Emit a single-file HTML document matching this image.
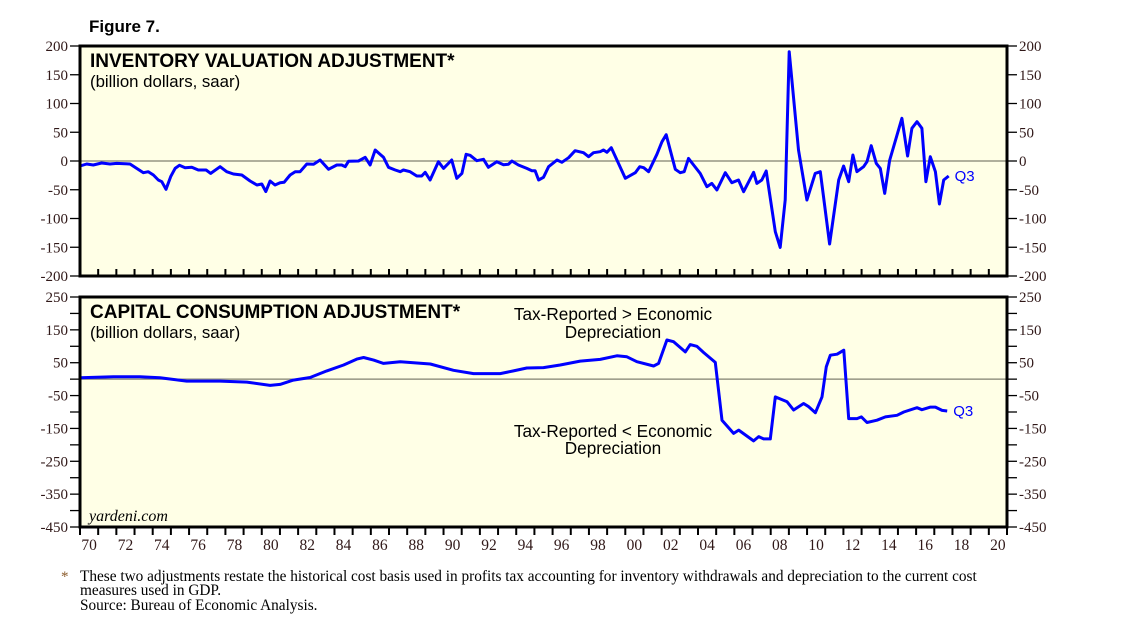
<!DOCTYPE html>
<html><head><meta charset="utf-8"><style>
body{margin:0;background:#fff}
svg{display:block}
.ser{font-family:"Liberation Serif",serif}
.san{font-family:"Liberation Sans",sans-serif}
</style></head><body>
<svg id="c" width="1138" height="630" viewBox="0 0 1138 630" xmlns="http://www.w3.org/2000/svg">
<text x="89" y="32" class="san" font-size="17" font-weight="bold">Figure 7.</text>
<g id="top"></g>
<g id="bot"></g>
<text x="61" y="581" class="ser" font-size="15" fill="#8a5a2a">*</text>
<text x="80" y="581" class="ser" font-size="15.3">These two adjustments restate the historical cost basis used in profits tax accounting for inventory withdrawals and depreciation to the current cost</text>
<text x="80" y="595" class="ser" font-size="15.3">measures used in GDP.</text>
<text x="80" y="610" class="ser" font-size="15.3">Source: Bureau of Economic Analysis.</text>
</svg>
<script>
const ivaYears=[1970.00,1970.37,1970.73,1971.19,1971.65,1972.02,1972.75,1973.12,1973.49,1973.76,1974.04,1974.31,1974.50,1974.73,1974.99,1975.23,1975.47,1975.78,1976.15,1976.51,1976.94,1977.19,1977.71,1978.07,1978.44,1978.90,1979.36,1979.73,1980.00,1980.22,1980.46,1980.73,1981.01,1981.23,1981.56,1981.84,1982.11,1982.48,1982.85,1983.21,1983.67,1984.13,1984.40,1984.59,1984.77,1985.32,1985.69,1985.96,1986.24,1986.70,1986.97,1987.34,1987.62,1987.79,1988.16,1988.53,1988.80,1988.99,1989.26,1989.72,1990.00,1990.45,1990.73,1991.01,1991.24,1991.46,1991.83,1992.20,1992.47,1992.93,1993.30,1993.57,1993.76,1994.12,1994.58,1994.86,1995.04,1995.23,1995.50,1995.78,1996.24,1996.51,1996.88,1997.24,1997.70,1997.98,1998.25,1998.62,1998.80,1998.99,1999.23,2000.00,2000.55,2000.79,2001.01,2001.28,2001.74,2002.02,2002.25,2002.75,2003.02,2003.24,2003.48,2003.76,2004.12,2004.49,2004.76,2005.04,2005.50,2005.86,2006.23,2006.51,2007.06,2007.24,2007.51,2007.75,2008.25,2008.52,2008.80,2009.02,2009.53,2009.99,2010.45,2010.73,2011.24,2011.74,2012.01,2012.29,2012.52,2012.74,2013.11,2013.30,2013.53,2013.81,2014.03,2014.27,2014.54,2015.22,2015.53,2015.77,2016.05,2016.32,2016.54,2016.78,2017.06,2017.28,2017.52,2017.79];
const ivaValues=[-8.7,-5.2,-7,-3.5,-5.2,-4.1,-5.2,-12.8,-20.3,-18.6,-24.4,-33,-36,-49.3,-27.2,-12.8,-7.5,-11.6,-11,-15.7,-15.7,-21.5,-9.9,-18.6,-22.6,-24.4,-34.8,-41.7,-40,-53.3,-34.8,-41.7,-37.7,-37.1,-24.4,-18.6,-18.6,-5.2,-5.8,1.7,-14.5,-7,-7,-9.9,-0.6,0,6.4,-7,19.1,6.4,-11,-15.7,-18.6,-15.7,-18.6,-26.1,-26.1,-19.7,-33,-1.2,-12.8,1.7,-30.1,-21.5,11.6,9.9,0.6,2.9,-11,-1.2,-6.4,-5.8,0,-7,-12.8,-16.8,-16.8,-33,-28.4,-9.9,1.7,-2.3,5.8,18,14.5,7.5,14.5,16.2,19.1,15.1,23.2,-30.1,-20.3,-9.9,-11.6,-18.6,11.6,33.6,45.8,-14.5,-20.3,-18.6,4.6,-7,-21.5,-44.7,-38.9,-50.5,-20.3,-37.7,-33.1,-53.4,-19.7,-38.9,-33.1,-17.4,-122.9,-150.2,-67.9,190.1,19.1,-67.9,-21.5,-18.6,-144.4,-33.1,-8.7,-36,10.4,-18.6,-9.9,-1.2,26.6,-4.1,-12.8,-56.3,0.8,74.2,8.7,56.8,68.4,56.8,-36,7.5,-18.6,-74.8,-33.1,-26.1];
const ccaYears=[1970,1971.84,1973.30,1974.40,1975.87,1977.71,1979.18,1980.46,1981.01,1981.74,1982.66,1983.58,1984.50,1985.23,1985.60,1986.15,1986.70,1987.62,1989.27,1990.55,1991.65,1993.12,1993.85,1994.58,1995.50,1996.42,1997.52,1998.62,1999.54,2000.09,2000.64,2001.56,2001.83,2002.29,2002.66,2003.30,2003.57,2003.94,2004.31,2004.95,2005.32,2005.96,2006.24,2007.06,2007.34,2007.61,2007.98,2008.25,2008.90,2009.26,2009.81,2010.09,2010.46,2010.82,2011.06,2011.28,2011.65,2012.02,2012.29,2012.75,2012.99,2013.30,2013.85,2014.31,2014.95,2015.32,2016.05,2016.32,2016.79,2017.06,2017.43,2017.71];
const ccaValues=[4,7,7,4,-6,-6,-9,-19,-16,-3,5,25,43,61,66,58,48,53,46,27,17,17,25,34,35,43,55,60,71,68,53,40,48,119,114,83,105,100,81,51,-125,-165,-155,-188,-175,-182,-182,-54,-69,-94,-74,-84,-102,-54,38,73,76,88,-120,-120,-115,-132,-125,-115,-110,-100,-87,-93,-85,-85,-95,-97];
const ivaTicks=[200,150,100,50,0,-50,-100,-150,-200];
const ccaTicks=[250,150,50,-50,-150,-250,-350,-450];
const yearLabels=["70","72","74","76","78","80","82","84","86","88","90","92","94","96","98","00","02","04","06","08","10","12","14","16","18","20"];

const NS="http://www.w3.org/2000/svg";
const L=80,R=1007,Y0=1970,Y1=2021;
const x=yr=>L+(yr-Y0)*(R-L)/(Y1-Y0);
function mk(p,t,a){const e=document.createElementNS(NS,t);for(const k in a)e.setAttribute(k,a[k]);p.appendChild(e);return e;}
function panel(g,top,bot,vmax,vmin,ticks,minor,years,vals,title,name){
  const y=v=>top+(vmax-v)*(bot-top)/(vmax-vmin);
  const bg=mk(g,'rect',{x:L,y:top,width:R-L,height:bot-top,fill:'#ffffe6'});
  
  
  const z=mk(g,'line',{x1:L,x2:R,y1:y(0),y2:y(0),stroke:'#808070','stroke-width':1.3});
  
  
  for(let v=vmin;v<=vmax;v+=minor){
    mk(g,'line',{x1:L-10,x2:L,y1:y(v),y2:y(v),stroke:'#000','stroke-width':1.3});
    mk(g,'line',{x1:R,x2:R+10,y1:y(v),y2:y(v),stroke:'#000','stroke-width':1.3});
  }
  ticks.forEach(v=>{
    const a=mk(g,'text',{x:L-12,y:y(v)+5,'text-anchor':'end','font-size':15,fill:'#301818',class:'ser'});a.textContent=v;
    
    
    const b=mk(g,'text',{x:R+12,y:y(v)+5,'font-size':15,fill:'#301818',class:'ser'});b.textContent=v;
    
    
  });
  const pts=years.map((yr,i)=>x(yr).toFixed(1)+','+y(vals[i]).toFixed(1)).join(' ');
  const pl=mk(g,'polyline',{points:pts,fill:'none',stroke:'#0000ff','stroke-width':3,'stroke-linejoin':'round'});
  
  
  const q=mk(g,'text',{x:x(years[years.length-1])+6,y:y(vals[vals.length-1])+5,'font-size':15,fill:'#0000ff',class:'san'});q.textContent='Q3';
  
  
  const fr=mk(g,'rect',{x:L,y:top,width:R-L,height:bot-top,fill:'none',stroke:'#000','stroke-width':3});
  
  
  const t=mk(g,'text',{x:90,y:top+21,'font-size':19,'font-weight':'bold',class:'san'});t.textContent=title;
  
  
  const s=mk(g,'text',{x:90,y:top+41,'font-size':16.8,class:'san'});s.textContent='(billion dollars, saar)';
  
  
  return y;
}
const gt=document.getElementById('top'),gb=document.getElementById('bot');
panel(gt,46,276,200,-200,ivaTicks,50,ivaYears,ivaValues,'INVENTORY VALUATION ADJUSTMENT*','iva');
panel(gb,297,527,250,-450,ccaTicks,50,ccaYears,ccaValues,'CAPITAL CONSUMPTION ADJUSTMENT*','cca');
for(let yr=Y0;yr<=Y1;yr++){
  mk(gt,'line',{x1:x(yr),x2:x(yr),y1:276,y2:269,stroke:'#000','stroke-width':2});
  mk(gb,'line',{x1:x(yr),x2:x(yr),y1:527,y2:535,stroke:'#000','stroke-width':2});
}
yearLabels.forEach((lb,i)=>{
  const t=mk(gb,'text',{x:x(Y0+2*i+0.5),y:550,'text-anchor':'middle','font-size':15.5,fill:'#301818',class:'ser'});t.textContent=lb;
  
  
});
const notes=[['Tax-Reported > Economic',320,'annotation-above'],['Depreciation',338,'annotation-above-2'],['Tax-Reported < Economic',437,'annotation-below'],['Depreciation',454,'annotation-below-2']];
notes.forEach(n=>{
  const t=mk(gb,'text',{x:613,y:n[1],'text-anchor':'middle','font-size':17.2,class:'san'});t.textContent=n[0];
  
  
});
const w=mk(gb,'text',{x:89,y:521,'font-size':16,'font-style':'italic',class:'ser'});w.textContent='yardeni.com';


</script>
</body></html>
